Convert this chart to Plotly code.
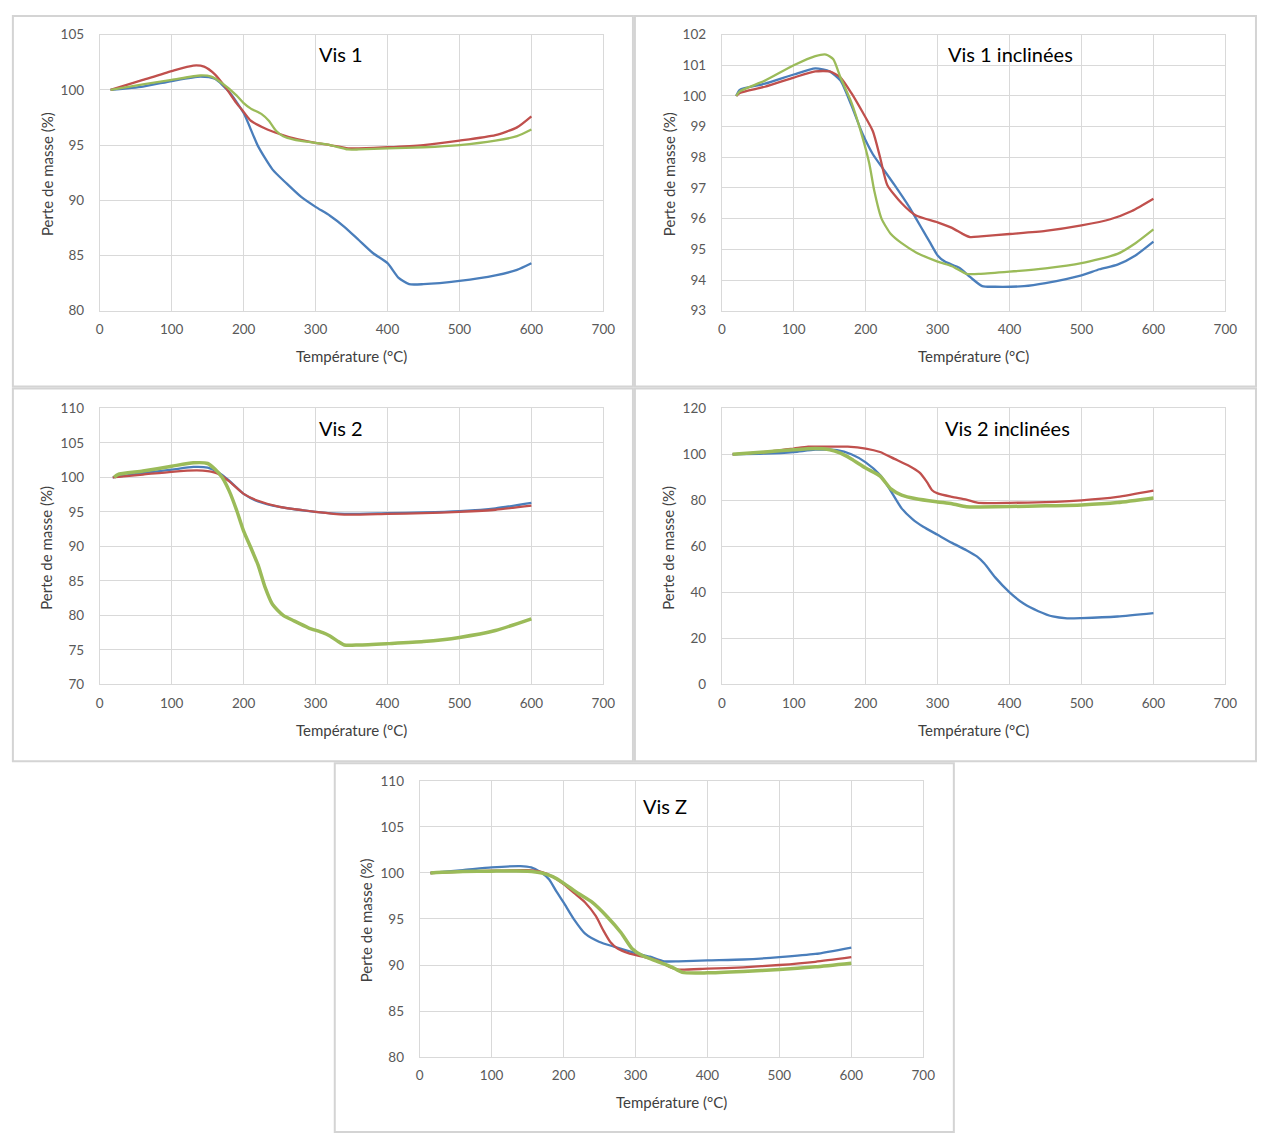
import plotly.graph_objects as go

W, H = 1266, 1137

# ---------------------------------------------------------------- data
# Vis 1
vis1_blue_t = [15, 60, 100, 140, 160, 180, 200, 220, 240, 260, 280, 300, 320, 340, 360, 380, 400, 415, 430, 450, 500, 550, 580, 600]
vis1_blue = [100.0, 100.3, 100.8, 101.2, 101.0, 99.8, 97.9, 94.9, 92.8, 91.5, 90.3, 89.4, 88.6, 87.6, 86.4, 85.2, 84.3, 83.0, 82.4, 82.4, 82.7, 83.2, 83.7, 84.3]
vis1_red_t = [15, 60, 100, 130, 145, 160, 175, 190, 200, 210, 230, 250, 270, 300, 320, 345, 360, 400, 450, 500, 550, 580, 600]
vis1_red = [100.0, 100.9, 101.7, 102.2, 102.1, 101.4, 100.2, 98.8, 98.0, 97.2, 96.5, 96.0, 95.6, 95.2, 95.0, 94.7, 94.7, 94.8, 95.0, 95.4, 95.9, 96.6, 97.6]
vis1_green_t = [15, 60, 100, 140, 155, 170, 190, 200, 210, 225, 235, 245, 255, 270, 300, 320, 345, 360, 400, 450, 500, 550, 580, 600]
vis1_green = [100.0, 100.5, 100.9, 101.3, 101.2, 100.6, 99.5, 98.8, 98.3, 97.8, 97.2, 96.3, 95.8, 95.5, 95.2, 95.0, 94.6, 94.6, 94.7, 94.8, 95.0, 95.4, 95.8, 96.4]

# Vis 1 inclinées
vis1i_blue_t = [20, 25, 60, 100, 130, 150, 165, 180, 195, 210, 225, 240, 260, 280, 290, 300, 310, 330, 345, 362, 380, 420, 450, 500, 525, 550, 575, 600]
vis1i_blue = [100.0, 100.2, 100.4, 100.7, 100.9, 100.8, 100.5, 99.7, 98.8, 98.1, 97.6, 97.1, 96.4, 95.6, 95.2, 94.8, 94.6, 94.4, 94.1, 93.8, 93.78, 93.8, 93.9, 94.15, 94.35, 94.5, 94.8, 95.25]
vis1i_red_t = [20, 25, 60, 100, 130, 150, 165, 180, 195, 210, 220, 230, 250, 270, 300, 320, 335, 345, 360, 400, 450, 500, 540, 570, 600]
vis1i_red = [100.0, 100.1, 100.3, 100.6, 100.8, 100.8, 100.6, 100.1, 99.5, 98.85, 98.0, 97.1, 96.5, 96.1, 95.88, 95.7, 95.5, 95.4, 95.42, 95.5, 95.6, 95.78, 95.98, 96.25, 96.65]
vis1i_green_t = [20, 25, 60, 100, 130, 145, 155, 165, 180, 195, 205, 212, 222, 235, 250, 270, 300, 320, 340, 360, 400, 450, 500, 550, 575, 600]
vis1i_green = [100.0, 100.15, 100.5, 101.0, 101.3, 101.35, 101.2, 100.6, 99.8, 98.7, 97.8, 96.9, 96.0, 95.5, 95.2, 94.9, 94.6, 94.45, 94.2, 94.2, 94.27, 94.38, 94.55, 94.85, 95.2, 95.65]

# Vis 2
vis2_blue_t = [18, 60, 100, 130, 150, 165, 180, 200, 220, 250, 300, 340, 400, 450, 500, 550, 600]
vis2_blue = [100.0, 100.6, 101.1, 101.5, 101.4, 100.7, 99.5, 97.6, 96.5, 95.7, 95.0, 94.7, 94.8, 94.9, 95.1, 95.5, 96.3]
vis2_red_t = [18, 60, 100, 135, 150, 165, 180, 200, 220, 250, 300, 340, 400, 450, 500, 550, 600]
vis2_red = [100.0, 100.4, 100.8, 101.0, 100.9, 100.5, 99.4, 97.6, 96.6, 95.7, 95.0, 94.6, 94.7, 94.8, 95.0, 95.3, 95.9]
vis2_green_t = [20, 25, 60, 100, 130, 150, 160, 170, 180, 190, 200, 210, 220, 230, 240, 255, 270, 290, 310, 320, 330, 340, 360, 400, 450, 500, 550, 600]
vis2_green = [100.0, 100.4, 100.9, 101.6, 102.1, 102.0, 101.2, 100.0, 98.0, 95.3, 92.2, 89.8, 87.3, 84.0, 81.6, 80.0, 79.2, 78.2, 77.5, 77.0, 76.3, 75.7, 75.7, 75.9, 76.2, 76.8, 77.8, 79.5]

# Vis 2 inclinées
vis2i_blue_t = [15, 60, 100, 130, 160, 180, 200, 220, 235, 250, 265, 280, 300, 320, 340, 355, 365, 380, 400, 420, 440, 460, 480, 500, 550, 600]
vis2i_blue = [100, 100.3, 101, 102, 101.8, 100, 96.5, 91, 84, 76.5, 71.8, 68.5, 65, 61.5, 58.3, 55.5, 52.5, 46.5, 40, 35, 31.8, 29.5, 28.7, 28.8, 29.5, 31]
vis2i_red_t = [15, 60, 100, 120, 150, 175, 200, 220, 240, 260, 275, 285, 292, 300, 320, 340, 355, 370, 400, 450, 500, 550, 600]
vis2i_red = [100, 101, 102.5, 103.3, 103.3, 103.3, 102.5, 101, 98, 95, 92, 88, 84.5, 83, 81.5, 80.3, 79, 78.8, 78.9, 79.2, 80, 81.5, 84.2]
vis2i_green_t = [15, 60, 100, 130, 150, 165, 180, 200, 220, 235, 250, 270, 300, 320, 340, 360, 400, 450, 500, 550, 600]
vis2i_green = [100, 101, 102, 102.5, 102, 100.5, 98, 94, 90.5, 85, 82.3, 80.7, 79.3, 78.5, 77.2, 77.1, 77.3, 77.6, 78, 79, 81]

# Vis Z
visz_blue_t = [15, 60, 100, 140, 155, 170, 180, 190, 200, 215, 230, 250, 270, 300, 320, 340, 360, 400, 450, 500, 550, 600]
visz_blue = [100, 100.3, 100.6, 100.75, 100.6, 100.0, 99.3, 98.0, 96.8, 94.9, 93.4, 92.5, 92.0, 91.3, 90.9, 90.4, 90.4, 90.5, 90.6, 90.85, 91.2, 91.9]
visz_red_t = [15, 60, 100, 150, 170, 185, 200, 215, 230, 245, 255, 265, 275, 290, 310, 330, 350, 360, 400, 450, 500, 550, 600]
visz_red = [100, 100.15, 100.25, 100.3, 100.1, 99.6, 98.8, 97.8, 96.8, 95.3, 93.8, 92.5, 91.8, 91.3, 90.9, 90.5, 89.7, 89.5, 89.6, 89.75, 90.0, 90.35, 90.85]
visz_green_t = [15, 60, 100, 150, 170, 185, 200, 220, 240, 260, 280, 295, 310, 330, 350, 365, 400, 450, 500, 550, 600]
visz_green = [100, 100.15, 100.2, 100.2, 100.0, 99.6, 98.9, 97.8, 96.8, 95.3, 93.5, 91.8, 91.0, 90.4, 89.8, 89.2, 89.15, 89.3, 89.5, 89.8, 90.2]

titles = ['Vis 1', 'Vis 1 inclinées', 'Vis 2', 'Vis 2 inclinées', 'Vis Z']
y_ranges = [(80, 105, 5), (93, 102, 1), (70, 110, 5), (0, 120, 20), (80, 110, 5)]

series = [
    [(vis1_blue_t, vis1_blue), (vis1_red_t, vis1_red), (vis1_green_t, vis1_green)],
    [(vis1i_blue_t, vis1i_blue), (vis1i_red_t, vis1i_red), (vis1i_green_t, vis1i_green)],
    [(vis2_blue_t, vis2_blue), (vis2_red_t, vis2_red), (vis2_green_t, vis2_green)],
    [(vis2i_blue_t, vis2i_blue), (vis2i_red_t, vis2i_red), (vis2i_green_t, vis2i_green)],
    [(visz_blue_t, visz_blue), (visz_red_t, visz_red), (visz_green_t, visz_green)],
]

# ---------------------------------------------------------------- layout (pixels)
# plot areas: left, top, right, bottom
plot_boxes = [(97, 27, 607, 307), (727, 27, 1237, 307),
              (97, 406, 607, 686), (727, 406, 1237, 686),
              (421, 784, 931, 1064)]
panel_boxes = [(9, 8, 637, 384), (639, 8, 1268, 384),
               (9, 386, 637, 764), (639, 386, 1268, 764),
               (335, 766, 962, 1140)]
title_pos = [(341, 47), (1019, 47), (341, 426), (1016, 426), (669, 809)]
colors = ['#4a7ebb', '#c0504d', '#9bbb59']
green_width = [2.3, 2.3, 3.5, 3.5, 3.5]

FONT = 'Lato, Calibri, sans-serif'


def px(x):
    return x / W


def py(y):
    return 1 - y / H


fig = go.Figure()
layout = dict(autosize=True, margin=dict(l=0, r=0, t=0, b=0),
              paper_bgcolor='white', plot_bgcolor='white', showlegend=False,
              font=dict(family=FONT, color='#595959'))
shapes, annotations = [], []

for i, (box, panel) in enumerate(zip(plot_boxes, panel_boxes)):
    n = '' if i == 0 else str(i + 1)
    x0, y0, x1, y1 = box
    lo, hi, step = y_ranges[i]
    axis_common = dict(showgrid=True, gridcolor='#d9d9d9', gridwidth=1,
                       showline=True, linecolor='#d9d9d9', linewidth=1, mirror=True,
                       zeroline=False, ticks='outside', tickcolor='rgba(0,0,0,0)',
                       tickfont=dict(family=FONT, size=13.5, color='#595959'))
    layout['xaxis' + n] = dict(axis_common, domain=[px(x0), px(x1)], range=[0, 700],
                               tick0=0, dtick=100, ticklen=6,
                               anchor='y' + n)
    layout['yaxis' + n] = dict(axis_common, domain=[py(y1), py(y0)], range=[lo, hi],
                               tick0=lo, dtick=step, ticklen=12,
                               anchor='x' + n)
    for (t, v), c, w in zip(series[i], colors, [2.3, 2.3, green_width[i]]):
        fig.add_trace(go.Scatter(x=t, y=v, mode='lines', xaxis='x' + n, yaxis='y' + n,
                                 line=dict(color=c, width=w, shape='spline', smoothing=0.6),
                                 hoverinfo='skip'))
    # panel border
    shapes.append(dict(type='rect', xref='paper', yref='paper',
                       x0=px(panel[0]), x1=px(panel[2]), y0=py(panel[3]), y1=py(panel[1]),
                       line=dict(color='#d4d4d4', width=2), layer='below'))
    # chart title
    tx, ty = title_pos[i]
    annotations.append(dict(text=titles[i], xref='paper', yref='paper', x=px(tx), y=py(ty),
                            xanchor='center', yanchor='middle', showarrow=False,
                            font=dict(family=FONT, size=20, color='#000000')))
    # axis titles
    annotations.append(dict(text='Température (°C)', xref='paper', yref='paper',
                            x=px((x0 + x1) / 2), y=py(y1 + 46), xanchor='center', yanchor='middle',
                            showarrow=False, font=dict(family=FONT, size=15, color='#404040')))
    annotations.append(dict(text='Perte de masse (%)', xref='paper', yref='paper',
                            x=px(x0 - 54), y=py((y0 + y1) / 2 + 1), xanchor='center', yanchor='middle',
                            textangle=-90, showarrow=False,
                            font=dict(family=FONT, size=15, color='#404040')))

layout['shapes'] = shapes
layout['annotations'] = annotations
fig.update_layout(**layout)

# let the figure fill the whole window: no page margins, no scrollbars
page_fix = ("var s=document.createElement('style');"
            "s.textContent='html,body{margin:0;padding:0;overflow:hidden}';"
            "document.head.appendChild(s);"
            "Plotly.Plots.resize(document.getElementById('{plot_id}'));")
fig.write_html("out.html", config={'displayModeBar': False, 'responsive': True},
               default_width='100vw', default_height='100vh', post_script=page_fix)
